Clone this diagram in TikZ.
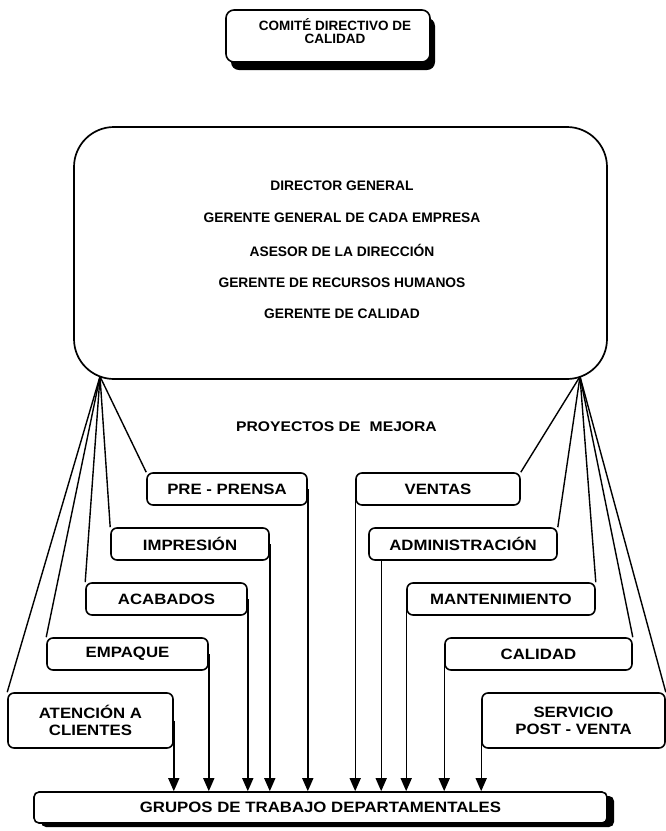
\documentclass[tikz,border=0pt]{standalone}
\usepackage{fontspec}
\setmainfont{Liberation Sans}
\newfontfamily\widefont[FakeStretch=1.12]{Liberation Sans}
\usetikzlibrary{arrows.meta,shadows,calc}

\begin{document}
\begin{tikzpicture}[x=1pt,y=-1pt,
  unit/.style={draw, line width=1.6pt, rounded corners=6pt, fill=white,
    inner sep=0pt, align=center,
    font=\widefont\bfseries\fontsize{15}{17}\selectfont},
  member/.style={font=\bfseries\fontsize{13.8}{16}\selectfont},
  link/.style={line width=1.4pt},
  arr/.style={line width=1.4pt, -{Triangle[width=11pt,length=13pt]}},
  heavyshadow/.style={general shadow={fill=black, shadow xshift=#1}},
]
\useasboundingbox (0,0) rectangle (666,831);

% steering committee
\node[draw, line width=1.6pt, rounded corners=8pt, fill=white,
      minimum width=204pt, minimum height=52pt, inner sep=0pt,
      general shadow={fill=black, shadow xshift=5pt, shadow yshift=-8pt}]
      (comite) at (328,36) {};
\node[align=center, font=\bfseries\fontsize{13.5}{13}\selectfont]
      (comitetxt) at (335,31.5) {COMITÉ DIRECTIVO DE\\CALIDAD};

% management board
\node[draw, line width=1.7pt, rounded corners=40pt, minimum width=533pt,
      minimum height=252pt, inner sep=0pt] (dir) at (340.5,253) {};
\node[member] (m1) at (342,186) {DIRECTOR GENERAL};
\node[member] (m2) at (342,218) {GERENTE GENERAL DE CADA EMPRESA};
\node[member] (m3) at (342,250) {ASESOR DE LA DIRECCIÓN};
\node[member] (m4) at (342,283) {GERENTE DE RECURSOS HUMANOS};
\node[member] (m5) at (342,314) {GERENTE DE CALIDAD};
\coordinate (fanL) at (100,376.5);
\coordinate (fanR) at (580,376.5);

\node[font=\widefont\bfseries\fontsize{14}{16}\selectfont] (proy) at (336.5,427)
      {PROYECTOS DE\hspace{0.35em} MEJORA};

% improvement project teams
\node[unit, minimum width=160pt, minimum height=32pt] (pp)  at (227,489)   {PRE - PRENSA};
\node[unit, minimum width=158pt, minimum height=32pt] (imp) at (190,544)   {IMPRESIÓN};
\node[unit, minimum width=161pt, minimum height=32pt] (aca) at (166.5,599) {ACABADOS};
\node[unit, minimum width=161pt, minimum height=32pt] (emp) at (127.5,654) {EMPAQUE};
\node[unit, minimum width=165pt, minimum height=55pt] (ate) at (90.5,720.5) {ATENCIÓN A\\CLIENTES};

\node[unit, minimum width=164pt, minimum height=32pt] (ven) at (438,489)   {VENTAS};
\node[unit, minimum width=188pt, minimum height=32pt] (adm) at (463,544)   {ADMINISTRACIÓN};
\node[unit, minimum width=188pt, minimum height=32pt] (man) at (501,599)   {MANTENIMIENTO};
\node[unit, minimum width=187pt, minimum height=32pt] (cal) at (538.5,654) {CALIDAD};
\node[unit, minimum width=183pt, minimum height=55pt] (ser) at (573.5,720.5) {SERVICIO\\POST - VENTA};

% departmental work groups
\node[unit, rounded corners=5pt, minimum width=573pt, minimum height=31pt,
      general shadow={fill=black, shadow xshift=7pt, shadow yshift=-4pt}]
      (grupos) at (320.5,807.5) {GRUPOS DE TRABAJO DEPARTAMENTALES};

% fans from the board to the teams
\foreach \b in {pp,imp,aca,emp,ate} \draw[link] (fanL) -- (\b.north west);
\foreach \b in {ven,adm,man,cal,ser} \draw[link] (fanR) -- (\b.north east);

% teams down to the work groups
\foreach \b in {pp,imp,aca,emp,ate} \draw[arr] (\b.east) -- (\b.east |- grupos.north);
\foreach \b in {ven,man,cal,ser} \draw[arr] (\b.west) -- (\b.west |- grupos.north);
\coordinate (admfoot) at ($(adm.south west)+(13,0)$);
\draw[arr] (admfoot) -- (admfoot |- grupos.north);
\end{tikzpicture}
\end{document}
